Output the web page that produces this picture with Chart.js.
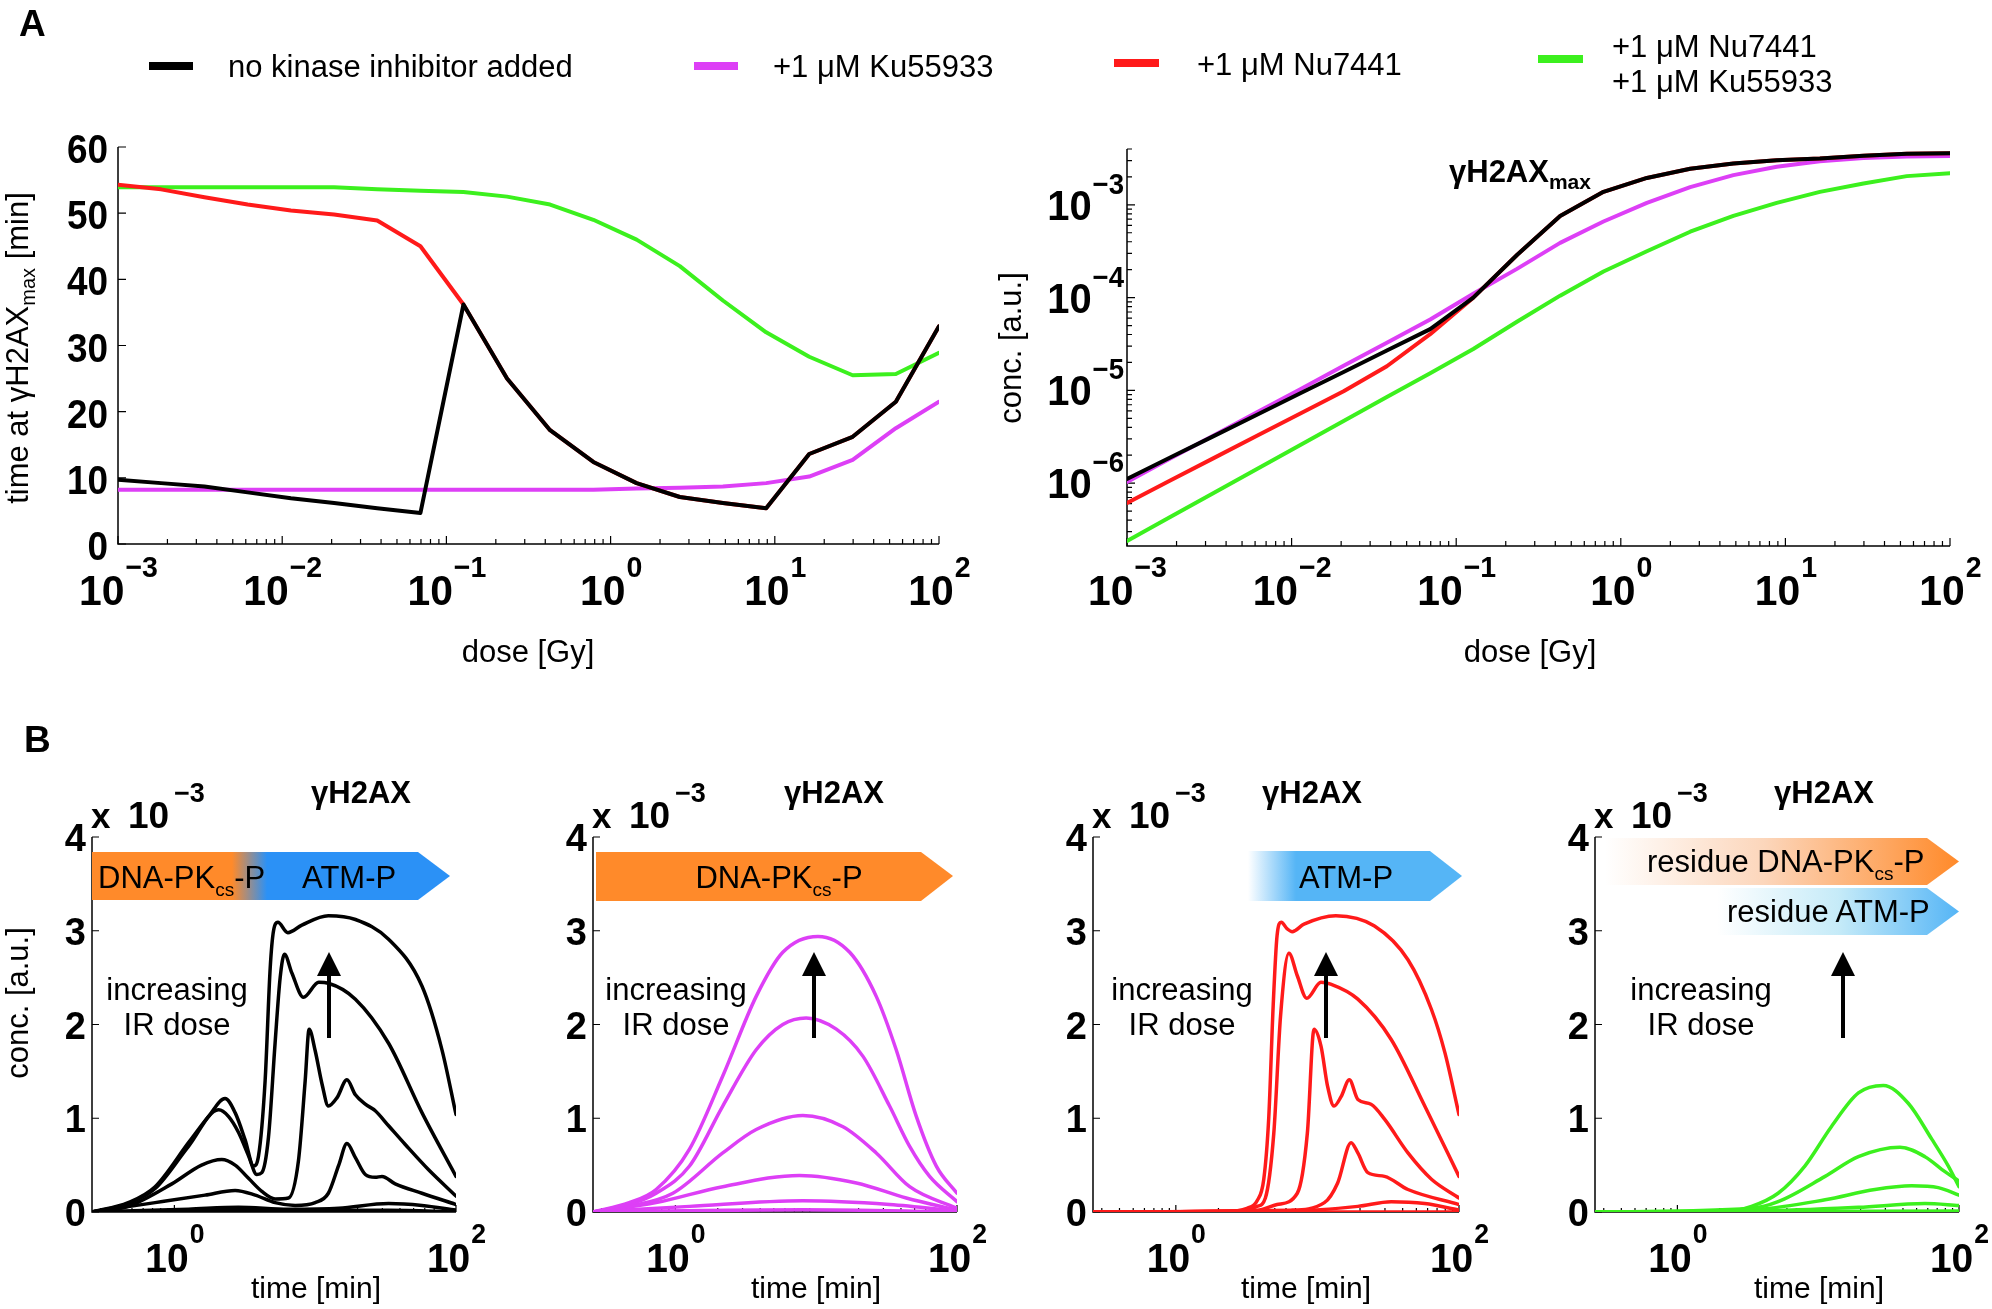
<!DOCTYPE html>
<html>
<head>
<meta charset="utf-8">
<title>gamma-H2AX dose response</title>
<script src="https://cdn.jsdelivr.net/npm/chart.js@4.4.1/dist/chart.umd.min.js"></script>
<style>
  html, body { margin: 0; padding: 0; background: #fff; }
  #fig { position: relative; width: 1992px; height: 1309px; overflow: hidden; }
  canvas { position: absolute; }
  #notes { position: absolute; left: 0; top: 0; pointer-events: none; }
</style>
</head>
<body>
<div id="fig">
  <canvas id="peakTime"></canvas>
  <canvas id="peakConc"></canvas>
  <canvas id="courseNone"></canvas>
  <canvas id="courseKu"></canvas>
  <canvas id="courseNu"></canvas>
  <canvas id="courseBoth"></canvas>

  <svg id="notes" width="1992" height="1309" font-family="Liberation Sans, Arial, Helvetica, sans-serif" style="white-space:pre">
    <defs>
      <linearGradient id="gPkAtm" gradientUnits="userSpaceOnUse" x1="232" y1="0" x2="267" y2="0">
        <stop offset="0" stop-color="#ff8a2a"/><stop offset="1" stop-color="#2b91f6"/>
      </linearGradient>
      <linearGradient id="gAtm" gradientUnits="userSpaceOnUse" x1="1248" y1="0" x2="1296" y2="0">
        <stop offset="0" stop-color="#ffffff"/><stop offset="1" stop-color="#55b5f6"/>
      </linearGradient>
      <linearGradient id="gResPk" gradientUnits="userSpaceOnUse" x1="1605" y1="0" x2="1959" y2="0">
        <stop offset="0" stop-color="#ffffff"/><stop offset="0.45" stop-color="#fcd6bb"/><stop offset="1" stop-color="#ff8a2a"/>
      </linearGradient>
      <linearGradient id="gResAtm" gradientUnits="userSpaceOnUse" x1="1717" y1="0" x2="1959" y2="0">
        <stop offset="0" stop-color="#ffffff"/><stop offset="0.5" stop-color="#c6ebf8"/><stop offset="1" stop-color="#55b5f6"/>
      </linearGradient>
    </defs>

    <!-- panel letters -->
    <text x="19" y="36" font-size="37" font-weight="bold">A</text>
    <text x="24" y="752" font-size="37" font-weight="bold">B</text>

    <!-- legend -->
    <rect x="149" y="62" width="44" height="8" fill="#000"/>
    <text x="228" y="77" font-size="31">no kinase inhibitor added</text>
    <rect x="694" y="62" width="44" height="8" fill="#dd3ff6"/>
    <text x="773" y="77" font-size="31">+1 μM Ku55933</text>
    <rect x="1114" y="59" width="45" height="8" fill="#ff1a1a"/>
    <text x="1197" y="75" font-size="31">+1 μM Nu7441</text>
    <rect x="1538" y="55" width="45" height="8" fill="#3cf01e"/>
    <text x="1612" y="57" font-size="31">+1 μM Nu7441</text>
    <text x="1612" y="92" font-size="31">+1 μM Ku55933</text>

    <!-- panel A axis titles -->
    <text transform="translate(28,348) rotate(-90)" text-anchor="middle" font-size="31">time at γH2AX<tspan font-size="20" dy="7">max</tspan><tspan dy="-7"> [min]</tspan></text>
    <text x="528" y="662" text-anchor="middle" font-size="31">dose [Gy]</text>
    <text transform="translate(1021,348) rotate(-90)" text-anchor="middle" font-size="31">conc. [a.u.]</text>
    <text x="1530" y="662" text-anchor="middle" font-size="31">dose [Gy]</text>
    <text x="1449" y="182" font-size="31" font-weight="bold">γH2AX<tspan font-size="21" dy="7">max</tspan></text>

    <!-- panel B shared texts -->
    <text transform="translate(28,1003) rotate(-90)" text-anchor="middle" font-size="31">conc. [a.u.]</text>

    <g font-weight="bold">
      <text x="91" y="828" font-size="35">x</text><text x="128" y="828" font-size="37">10</text><text x="174" y="802" font-size="27">−3</text>
      <text x="592" y="828" font-size="35">x</text><text x="629" y="828" font-size="37">10</text><text x="675" y="802" font-size="27">−3</text>
      <text x="1092" y="828" font-size="35">x</text><text x="1129" y="828" font-size="37">10</text><text x="1175" y="802" font-size="27">−3</text>
      <text x="1594" y="828" font-size="35">x</text><text x="1631" y="828" font-size="37">10</text><text x="1677" y="802" font-size="27">−3</text>
      <text x="361" y="803" font-size="31" text-anchor="middle">γH2AX</text>
      <text x="834" y="803" font-size="31" text-anchor="middle">γH2AX</text>
      <text x="1312" y="803" font-size="31" text-anchor="middle">γH2AX</text>
      <text x="1824" y="803" font-size="31" text-anchor="middle">γH2AX</text>
    </g>

    <g font-size="30" text-anchor="middle">
      <text x="316" y="1298">time [min]</text>
      <text x="816" y="1298">time [min]</text>
      <text x="1306" y="1298">time [min]</text>
      <text x="1819" y="1298">time [min]</text>
    </g>

    <!-- kinase bars -->
    <polygon points="92,852 418,852 450,876 418,900 92,900" fill="url(#gPkAtm)"/>
    <text x="98" y="888" font-size="31">DNA-PK<tspan font-size="19" dy="8">cs</tspan><tspan dy="-8">-P</tspan></text>
    <text x="302" y="888" font-size="31">ATM-P</text>

    <polygon points="596,852 921,852 953,876 921,901 596,901" fill="#ff8a2a"/>
    <text x="779" y="888" font-size="31" text-anchor="middle">DNA-PK<tspan font-size="19" dy="8">cs</tspan><tspan dy="-8">-P</tspan></text>

    <polygon points="1248,851 1430,851 1462,876 1430,901 1248,901" fill="url(#gAtm)"/>
    <text x="1346" y="888" font-size="31" text-anchor="middle">ATM-P</text>

    <polygon points="1605,838 1927,838 1959,861.5 1927,885 1605,885" fill="url(#gResPk)"/>
    <text x="1647" y="872" font-size="31">residue DNA-PK<tspan font-size="19" dy="8">cs</tspan><tspan dy="-8">-P</tspan></text>
    <polygon points="1717,888 1927,888 1959,911.5 1927,935 1717,935" fill="url(#gResAtm)"/>
    <text x="1727" y="922" font-size="31">residue ATM-P</text>

    <!-- increasing dose notes -->
    <g font-size="31" text-anchor="middle">
      <text x="177" y="1000">increasing</text><text x="177" y="1035">IR dose</text>
      <text x="676" y="1000">increasing</text><text x="676" y="1035">IR dose</text>
      <text x="1182" y="1000">increasing</text><text x="1182" y="1035">IR dose</text>
      <text x="1701" y="1000">increasing</text><text x="1701" y="1035">IR dose</text>
    </g>
    <g fill="#000" stroke="#000">
      <line x1="329" y1="1038" x2="329" y2="972" stroke-width="4"/>
      <polygon points="317,976 341,976 329,952" stroke="none"/>
      <line x1="814" y1="1038" x2="814" y2="972" stroke-width="4"/>
      <polygon points="802,976 826,976 814,952" stroke="none"/>
      <line x1="1326" y1="1038" x2="1326" y2="972" stroke-width="4"/>
      <polygon points="1314,976 1338,976 1326,952" stroke="none"/>
      <line x1="1843" y1="1038" x2="1843" y2="972" stroke-width="4"/>
      <polygon points="1831,976 1855,976 1843,952" stroke="none"/>
    </g>
  </svg>
</div>

<script>
// ---------- Panel A: dose scan ----------
const doses = [0.001, 0.00183, 0.00336, 0.00616, 0.0113, 0.0207, 0.0379, 0.0695, 0.127, 0.234,
               0.428, 0.785, 1.44, 2.64, 4.83, 8.86, 16.2, 29.8, 54.6, 100];

// time at gammaH2AX max [min]
const peakTimeNone = [9.7, 9.2, 8.7, 7.8, 6.9, 6.2, 5.4, 4.7, 36.2, 25.0, 17.2, 12.4, 9.2, 7.1, 6.2, 5.4, 13.6, 16.2, 21.5, 32.9];
const peakTimeKu   = [8.2, 8.2, 8.2, 8.2, 8.2, 8.2, 8.2, 8.2, 8.2, 8.2, 8.2, 8.2, 8.4, 8.5, 8.7, 9.2, 10.2, 12.7, 17.5, 21.5];
const peakTimeNu   = [54.3, 53.6, 52.4, 51.3, 50.4, 49.8, 48.9, 45.0, 36.2, 25.0, 17.2, 12.4, 9.2, 7.1, 6.2, 5.4, 13.6, 16.2, 21.5, 32.9];
const peakTimeBoth = [53.9, 53.9, 53.9, 53.9, 53.9, 53.9, 53.6, 53.4, 53.2, 52.5, 51.3, 49.0, 46.0, 42.0, 36.8, 32.0, 28.3, 25.5, 25.7, 28.9];

// gammaH2AX max concentration [a.u.]
const peakConcNone = [1.11e-6, 1.89e-6, 3.21e-6, 5.47e-6, 9.3e-6, 1.58e-5, 2.69e-5, 4.57e-5, 1.0e-4, 2.88e-4,
                      7.6e-4, 1.38e-3, 1.95e-3, 2.45e-3, 2.79e-3, 3.02e-3, 3.16e-3, 3.39e-3, 3.55e-3, 3.59e-3];
const peakConcKu   = [1.03e-6, 1.84e-6, 3.27e-6, 5.81e-6, 1.03e-5, 1.84e-5, 3.27e-5, 5.81e-5, 1.10e-4, 2.04e-4,
                      3.89e-4, 6.61e-4, 1.05e-3, 1.55e-3, 2.09e-3, 2.57e-3, 2.95e-3, 3.20e-3, 3.33e-3, 3.37e-3];
const peakConcNu   = [6.11e-7, 1.07e-6, 1.86e-6, 3.24e-6, 5.62e-6, 9.77e-6, 1.82e-5, 4.03e-5, 1.0e-4, 2.88e-4,
                      7.6e-4, 1.38e-3, 1.95e-3, 2.45e-3, 2.79e-3, 3.02e-3, 3.16e-3, 3.39e-3, 3.55e-3, 3.59e-3];
const peakConcBoth = [2.38e-7, 4.32e-7, 7.83e-7, 1.42e-6, 2.58e-6, 4.67e-6, 8.47e-6, 1.53e-5, 2.79e-5, 5.50e-5,
                      1.05e-4, 1.91e-4, 3.16e-4, 5.13e-4, 7.59e-4, 1.05e-3, 1.38e-3, 1.70e-3, 2.04e-3, 2.19e-3];

const doseTicks = [1e-3, 1e-2, 1e-1, 1, 10, 100];
const peakTimeTicks = [0, 10, 20, 30, 40, 50, 60];
const concTicks = [1e-6, 1e-5, 1e-4, 1e-3];

// ---------- Panel B: time courses, conc. in units of 1e-3 a.u. ----------
const timeTicks = [1, 100];
const courseTicks = [0, 1, 2, 3, 4];

const noneTimes = [
  [0.26, 0.47, 0.73, 1.26, 1.75, 2.29, 2.70, 3.18, 3.65, 3.96, 4.41, 4.79, 5.06, 5.43, 6.39, 8.04, 12.4, 19.3, 33.2, 57.3, 79.5, 100],
  [0.26, 0.47, 0.73, 1.26, 2.06, 2.42, 2.85, 3.36, 3.85, 4.18, 4.66, 5.19, 5.64, 6.05, 6.83, 8.26, 10.6, 12.4, 19.3, 33.2, 57.3, 100],
  [0.26, 0.47, 0.96, 1.56, 2.17, 2.70, 3.36, 4.18, 5.19, 6.46, 7.61, 8.49, 9.06, 10.0, 11.2, 12.4, 14.3, 16.8, 19.3, 22.7, 26.7, 33.2, 43.6, 63.9, 100],
  [0.26, 0.73, 1.65, 2.70, 3.75, 5.19, 7.21, 10.0, 12.4, 14.7, 16.8, 19.3, 22.7, 26.7, 29.8, 37.0, 57.3, 100],
  [0.26, 1.26, 2.85, 6.46, 14.7, 33.2, 57.3, 100],
  [0.26, 2.85, 33.2, 100]
];
const noneValues = [
  [0, 0.10, 0.27, 0.74, 1.02, 1.21, 1.06, 0.77, 0.49, 0.60, 1.40, 2.60, 3.00, 3.09, 2.98, 3.06, 3.16, 3.12, 2.91, 2.41, 1.73, 1.04],
  [0, 0.09, 0.25, 0.70, 1.09, 1.02, 0.85, 0.60, 0.40, 0.42, 0.80, 1.80, 2.50, 2.75, 2.55, 2.29, 2.45, 2.44, 2.27, 1.80, 1.06, 0.38],
  [0, 0.06, 0.30, 0.50, 0.56, 0.50, 0.36, 0.22, 0.14, 0.15, 0.55, 1.40, 1.95, 1.72, 1.36, 1.13, 1.22, 1.41, 1.25, 1.15, 1.08, 0.92, 0.72, 0.45, 0.17],
  [0, 0.10, 0.18, 0.23, 0.18, 0.10, 0.07, 0.10, 0.20, 0.50, 0.73, 0.58, 0.40, 0.37, 0.38, 0.30, 0.20, 0.08],
  [0, 0.03, 0.05, 0.03, 0.04, 0.09, 0.07, 0.02],
  [0, 0.015, 0.02, 0]
];

const kuTimes = [
  [0.26, 0.47, 0.73, 1.26, 2.17, 3.75, 5.79, 10.3, 17.3, 26.7, 37.0, 51.4, 71.3, 100],
  [0.26, 0.47, 0.73, 1.26, 2.17, 3.75, 5.79, 8.49, 13.9, 21.5, 33.2, 46.1, 63.9, 100],
  [0.26, 0.47, 0.96, 2.17, 3.75, 8.04, 15.5, 26.7, 46.1, 100],
  [0.26, 0.73, 2.17, 7.61, 19.3, 43.6, 100],
  [0.26, 1.26, 8.04, 33.2, 100],
  [0.26, 8.04, 100]
];
const kuValues = [
  [0, 0.10, 0.24, 0.67, 1.45, 2.30, 2.77, 2.94, 2.77, 2.30, 1.73, 1.02, 0.49, 0.20],
  [0, 0.08, 0.20, 0.49, 1.13, 1.73, 2.00, 2.07, 1.95, 1.66, 1.13, 0.70, 0.38, 0.11],
  [0, 0.06, 0.20, 0.63, 0.88, 1.03, 0.91, 0.63, 0.27, 0.04],
  [0, 0.10, 0.27, 0.39, 0.31, 0.15, 0.02],
  [0, 0.06, 0.12, 0.08, 0.01],
  [0, 0.025, 0]
];

const nuTimes = [
  [0.26, 2.17, 3.18, 3.75, 4.18, 4.53, 4.87, 5.19, 5.55, 6.12, 6.64, 8.04, 13.5, 25.3, 43.6, 63.9, 79.5, 100],
  [0.26, 2.85, 3.75, 4.29, 4.92, 5.49, 6.29, 7.21, 8.40, 10.6, 12.4, 19.3, 33.2, 57.3, 100],
  [0.26, 3.75, 5.19, 7.21, 8.49, 9.47, 10.6, 11.8, 13.1, 14.7, 16.8, 19.3, 23.9, 29.8, 43.6, 63.9, 100],
  [0.26, 6.46, 11.2, 13.9, 17.3, 19.3, 22.7, 29.8, 43.6, 100],
  [0.26, 6.46, 19.3, 33.2, 57.3, 100],
  [0.26, 100]
];
const nuValues = [
  [0, 0.005, 0.04, 0.12, 0.35, 1.00, 2.20, 2.95, 3.09, 3.02, 2.99, 3.07, 3.16, 3.05, 2.69, 2.16, 1.70, 1.04],
  [0, 0.01, 0.06, 0.15, 0.84, 2.09, 2.76, 2.52, 2.28, 2.45, 2.43, 2.27, 1.84, 1.13, 0.38],
  [0, 0.02, 0.08, 0.20, 0.84, 1.95, 1.77, 1.34, 1.13, 1.23, 1.41, 1.20, 1.15, 0.99, 0.63, 0.35, 0.15],
  [0, 0.02, 0.10, 0.31, 0.74, 0.63, 0.42, 0.38, 0.24, 0.08],
  [0, 0.01, 0.06, 0.11, 0.09, 0.02],
  [0, 0]
];

const bothTimes = [
  [0.26, 2.17, 3.36, 5.19, 8.04, 12.4, 19.3, 29.0, 43.6, 63.9, 84.0, 100],
  [0.26, 3.36, 5.19, 11.2, 19.3, 38.1, 57.3, 79.5, 100],
  [0.26, 3.75, 11.2, 25.3, 46.1, 71.3, 100],
  [0.26, 3.75, 19.3, 57.3, 100],
  [0.26, 100]
];
const bothValues = [
  [0, 0.005, 0.06, 0.20, 0.49, 0.91, 1.27, 1.35, 1.16, 0.78, 0.49, 0.27],
  [0, 0.04, 0.11, 0.38, 0.59, 0.69, 0.59, 0.43, 0.33],
  [0, 0.03, 0.13, 0.24, 0.28, 0.26, 0.18],
  [0, 0.01, 0.05, 0.09, 0.07],
  [0, 0.01]
];

const BLACK = '#000000', MAGENTA = '#dd3ff6', RED = '#ff1a1a', GREEN = '#3cf01e';
const FONT = '"Liberation Sans", Arial, Helvetica, sans-serif';

// minor tick values of a log axis (2..9 x 10^k inside the range)
function logMinor(min, max) {
  const out = [];
  for (let k = Math.floor(Math.log10(min)); k <= Math.ceil(Math.log10(max)); k++) {
    for (let m = 2; m <= 9; m++) {
      const v = m * Math.pow(10, k);
      if (v >= min && v <= max) out.push(v);
    }
  }
  return out;
}

function expText(v) {
  const e = Math.round(Math.log10(v));
  return (e < 0 ? '\u2212' : '') + Math.abs(e);
}

// bold text, optionally squeezed horizontally; returns drawn width
function textWidth(ctx, s, size, sx) {
  ctx.font = `bold ${size}px ${FONT}`;
  return ctx.measureText(s).width * sx;
}
function drawText(ctx, s, x, y, size, sx) {
  ctx.save();
  ctx.font = `bold ${size}px ${FONT}`;
  ctx.translate(x, y);
  ctx.scale(sx, 1);
  ctx.fillText(s, 0, 0);
  ctx.restore();
}

// MATLAB-like axes: inward ticks, bold labels, powers of ten with raised exponents
const axesPlugin = {
  id: 'matlabAxes',
  beforeDatasetsDraw(chart, args, o) {
    const {ctx, chartArea: a} = chart;
    const x = chart.scales.x, y = chart.scales.y;
    ctx.save();
    ctx.strokeStyle = '#000';
    ctx.lineWidth = 1.5;
    ctx.beginPath();
    ctx.moveTo(a.left, a.top);
    ctx.lineTo(a.left, a.bottom);
    ctx.lineTo(a.right, a.bottom);
    ctx.stroke();
    ctx.lineWidth = 1.2;
    ctx.beginPath();
    const tick = (px, py, dx, dy) => { ctx.moveTo(px, py); ctx.lineTo(px + dx, py + dy); };
    o.xMajor.forEach(v => tick(x.getPixelForValue(v), a.bottom, 0, -o.major));
    o.xMinor.forEach(v => tick(x.getPixelForValue(v), a.bottom, 0, -o.minor));
    o.yMajor.forEach(v => tick(a.left, y.getPixelForValue(v), o.major, 0));
    o.yMinor.forEach(v => tick(a.left, y.getPixelForValue(v), o.minor, 0));
    ctx.stroke();
    ctx.restore();
  },
  afterDraw(chart, args, o) {
    const {ctx, chartArea: a} = chart;
    const x = chart.scales.x, y = chart.scales.y;
    ctx.save();
    ctx.fillStyle = '#000';
    ctx.textBaseline = 'alphabetic';
    ctx.textAlign = 'left';
    o.xMajor.forEach(v => {
      const px = x.getPixelForValue(v);
      const ex = expText(v);
      const w1 = textWidth(ctx, '10', o.xBase, o.xSx);
      const w2 = textWidth(ctx, ex, o.xExp, o.xSx);
      const s = px - (w1 + w2) / 2;
      drawText(ctx, '10', s, a.bottom + o.xBaseDy, o.xBase, o.xSx);
      drawText(ctx, ex, s + w1 + 1, a.bottom + o.xExpDy, o.xExp, o.xSx);
    });
    o.yMajor.forEach(v => {
      const py = y.getPixelForValue(v);
      const right = a.left - o.yGap;
      if (o.yLog) {
        const ex = expText(v);
        const w1 = textWidth(ctx, '10', o.yBase, o.ySx);
        const w2 = textWidth(ctx, ex, o.yExp, o.ySx);
        drawText(ctx, '10', right - w2 - w1 - 1, py + o.yBaseDy, o.yBase, o.ySx);
        drawText(ctx, ex, right - w2, py + o.yExpDy, o.yExp, o.ySx);
      } else {
        const s = String(v);
        const w = textWidth(ctx, s, o.yBase, o.ySx);
        drawText(ctx, s, right - w, py + o.yBaseDy, o.yBase, o.ySx);
      }
    });
    ctx.restore();
  }
};

function series(xs, ys, color, width, smooth) {
  return {
    data: xs.map((t, i) => ({x: t, y: ys[i]})),
    borderColor: color,
    borderWidth: width,
    pointRadius: 0,
    fill: false,
    tension: 0,
    cubicInterpolationMode: smooth ? 'monotone' : 'default',
    borderJoinStyle: 'round',
    borderCapStyle: 'round'
  };
}

// box = canvas [left, top, width, height]; area = plot area [x1, y1, x2, y2], page pixels
function makeChart(id, box, area, datasets, xScale, yScale, axes) {
  const cv = document.getElementById(id);
  const [L, T, W, H] = box;
  cv.width = W; cv.height = H;
  Object.assign(cv.style, {left: L + 'px', top: T + 'px', width: W + 'px', height: H + 'px'});
  return new Chart(cv, {
    type: 'line',
    data: {datasets},
    options: {
      responsive: false,
      animation: false,
      events: [],
      layout: {padding: {left: area[0] - L, top: area[1] - T, right: L + W - area[2], bottom: T + H - area[3]}},
      scales: {
        x: Object.assign({display: false}, xScale),
        y: Object.assign({display: false}, yScale)
      },
      plugins: {legend: {display: false}, tooltip: {enabled: false}, matlabAxes: axes}
    },
    plugins: [axesPlugin]
  });
}

// Panel A, left: time at max
makeChart('peakTime', [40, 120, 940, 520], [118, 147, 939, 544],
  [series(doses, peakTimeNone, BLACK, 4), series(doses, peakTimeNu, RED, 4),
   series(doses, peakTimeKu, MAGENTA, 4), series(doses, peakTimeBoth, GREEN, 4)],
  {type: 'logarithmic', min: 1e-3, max: 100},
  {type: 'linear', min: 0, max: 60},
  {xMajor: doseTicks, xMinor: logMinor(1e-3, 100), yMajor: peakTimeTicks, yMinor: [],
   major: 8, minor: 5, xBase: 43, xExp: 30, xSx: 0.95, xBaseDy: 61, xExpDy: 33,
   yLog: false, yBase: 41, ySx: 0.9, yGap: 10, yBaseDy: 16});

// Panel A, right: max concentration
makeChart('peakConc', [1030, 120, 962, 520], [1127, 149, 1950, 546],
  [series(doses, peakConcNone, BLACK, 4), series(doses, peakConcNu, RED, 4),
   series(doses, peakConcKu, MAGENTA, 4), series(doses, peakConcBoth, GREEN, 4)],
  {type: 'logarithmic', min: 1e-3, max: 100},
  {type: 'logarithmic', min: 2.1e-7, max: 4.0e-3},
  {xMajor: doseTicks, xMinor: logMinor(1e-3, 100), yMajor: concTicks, yMinor: logMinor(2.1e-7, 4.0e-3),
   major: 8, minor: 5, xBase: 43, xExp: 30, xSx: 0.95, xBaseDy: 59, xExpDy: 31,
   yLog: true, yBase: 42, yExp: 29, ySx: 0.95, yGap: 3, yBaseDy: 15, yExpDy: -11});

// Panel B time courses
const courseAxes = {xMajor: timeTicks, xMinor: logMinor(0.26, 100), yMajor: courseTicks, yMinor: [],
  major: 7, minor: 4, xBase: 41, xExp: 28, xSx: 0.95, xBaseDy: 60, xExpDy: 31,
  yLog: false, yBase: 38, ySx: 1.0, yGap: 6, yBaseDy: 14};
const courseX = {type: 'logarithmic', min: 0.26, max: 100};
const courseY = {type: 'linear', min: 0, max: 4};

makeChart('courseNone', [40, 815, 460, 494], [92, 837, 456, 1212],
  noneTimes.map((t, i) => series(t, noneValues[i], BLACK, 3.5, true)), courseX, courseY, courseAxes);
makeChart('courseKu', [540, 815, 460, 494], [593, 837, 957, 1212],
  kuTimes.map((t, i) => series(t, kuValues[i], MAGENTA, 3.5, true)), courseX, courseY, courseAxes);
makeChart('courseNu', [1040, 815, 460, 494], [1093, 837, 1459, 1212],
  nuTimes.map((t, i) => series(t, nuValues[i], RED, 3.5, true)), courseX, courseY, courseAxes);
makeChart('courseBoth', [1542, 815, 450, 494], [1595, 837, 1959, 1212],
  bothTimes.map((t, i) => series(t, bothValues[i], GREEN, 3.5, true)), courseX, courseY, courseAxes);
</script>
</body>
</html>
